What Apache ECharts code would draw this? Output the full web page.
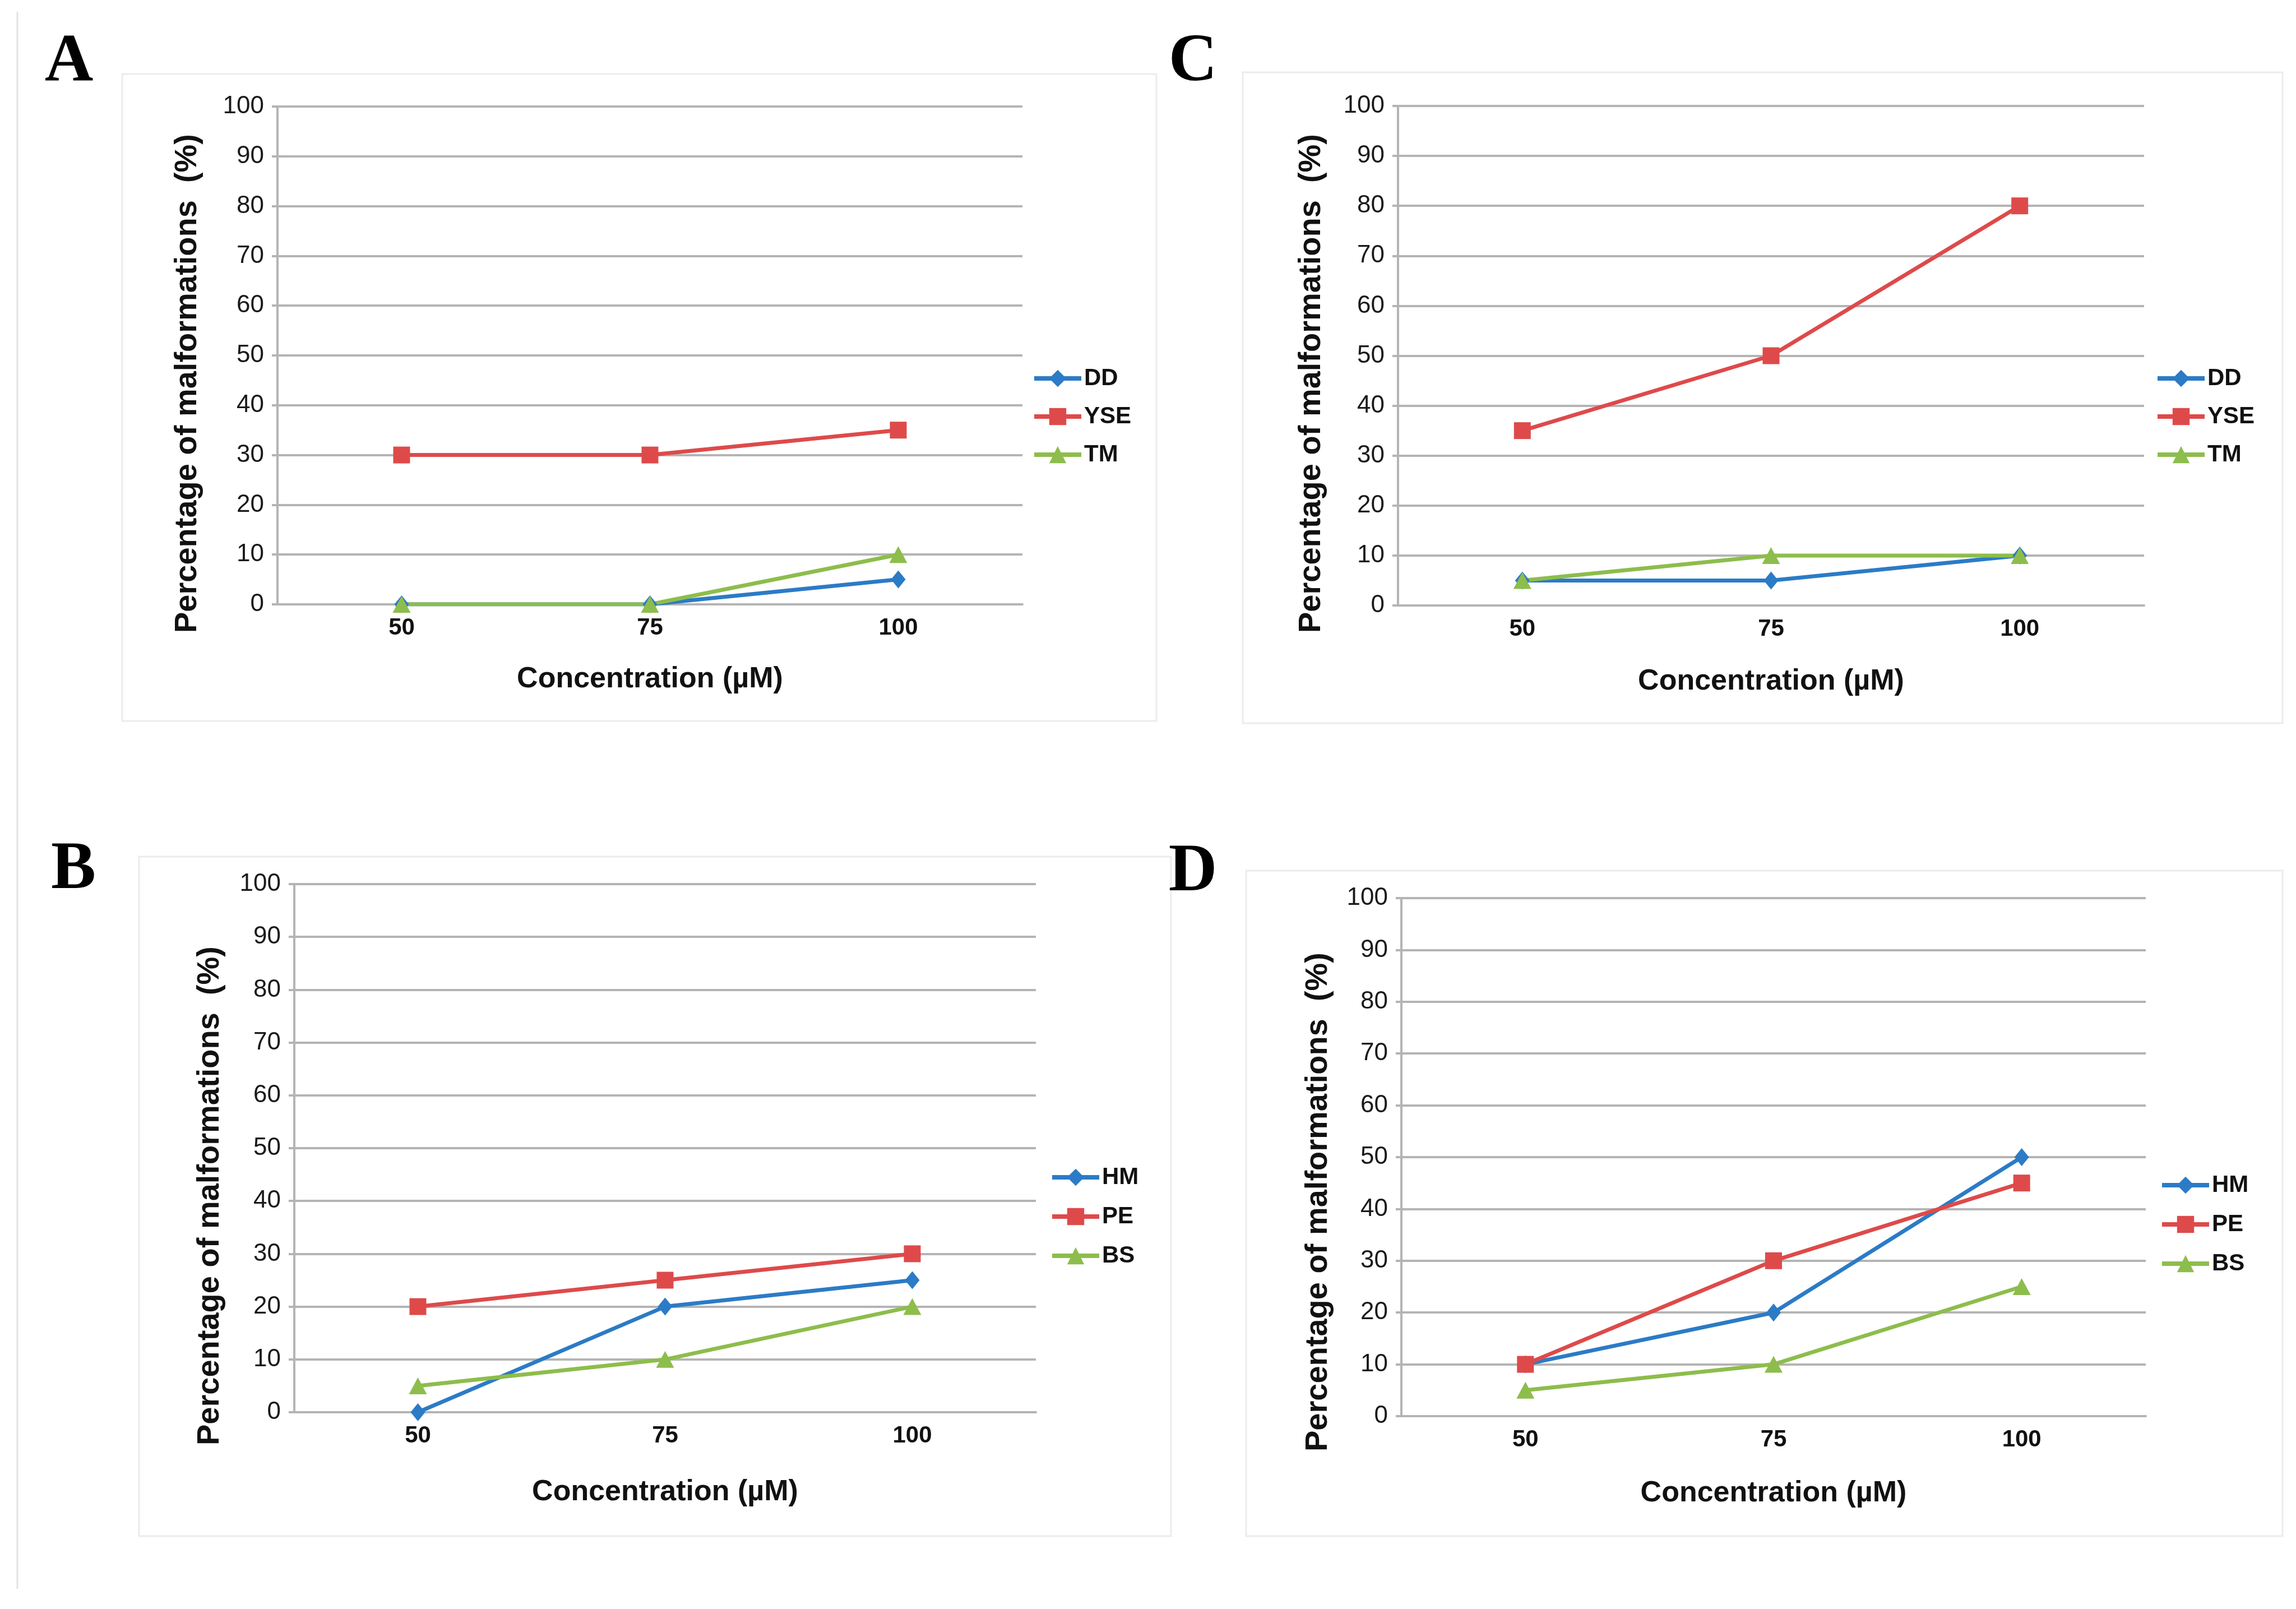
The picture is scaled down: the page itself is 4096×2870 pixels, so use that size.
<!DOCTYPE html>
<html>
<head>
<meta charset="utf-8">
<script src="https://cdn.jsdelivr.net/npm/echarts@6/dist/echarts.min.js"></script>
<style>
html,body{margin:0;padding:0;background:#fff;}
#main{width:4096px;height:2870px;}
</style>
</head>
<body>
<div id="main"></div>
<script>
// ---- data ----
const categories = ['50', '75', '100'];
const yMin = 0, yMax = 100, yStep = 10;

const A_DD = [0, 0, 5];
const A_YSE = [30, 30, 35];
const A_TM = [0, 0, 10];

const C_DD = [5, 5, 10];
const C_YSE = [35, 50, 80];
const C_TM = [5, 10, 10];

const B_HM = [0, 20, 25];
const B_PE = [20, 25, 30];
const B_BS = [5, 10, 20];

const D_HM = [10, 20, 50];
const D_PE = [10, 30, 45];
const D_BS = [5, 10, 25];

const xTitle = 'Concentration (\u00b5M)';
const yTitle = 'Percentage of malformations  (%)';

// ---- styles ----
const BLUE = '#2b7bc6', RED = '#de4a4a', GREEN = '#8dbd4c';
const GRID = '#b4b4b4';
const SANS = "'Liberation Sans', Arial, sans-serif";

const panels = [
  {grid: {left: 495, top: 190, width: 1329, height: 888}, nameGap: 108,
   legend: {left: 1836, top: 649, gap: 28},
   series: [['DD', A_DD, BLUE, 'diamond'], ['YSE', A_YSE, RED, 'rect'], ['TM', A_TM, GREEN, 'triangle']],
   yName: [335, 684], letter: ['A', 123, 112], box: [218, 132, 2063, 1286]},
  {grid: {left: 2494, top: 189, width: 1331, height: 891}, nameGap: 110,
   legend: {left: 3840, top: 649, gap: 28},
   series: [['DD', C_DD, BLUE, 'diamond'], ['YSE', C_YSE, RED, 'rect'], ['TM', C_TM, GREEN, 'triangle']],
   yName: [2340, 684], letter: ['C', 2128, 112], box: [2217, 129, 4072, 1290]},
  {grid: {left: 525, top: 1577, width: 1323, height: 942}, nameGap: 117,
   legend: {left: 1868, top: 2074, gap: 30},
   series: [['HM', B_HM, BLUE, 'diamond'], ['PE', B_PE, RED, 'rect'], ['BS', B_BS, GREEN, 'triangle']],
   yName: [375, 2133], letter: ['B', 131, 1553], box: [248, 1528, 2089, 2740]},
  {grid: {left: 2500, top: 1602, width: 1328, height: 924}, nameGap: 112,
   legend: {left: 3848, top: 2088, gap: 30},
   series: [['HM', D_HM, BLUE, 'diamond'], ['PE', D_PE, RED, 'rect'], ['BS', D_BS, GREEN, 'triangle']],
   yName: [2352, 2144], letter: ['D', 2128, 1557], box: [2223, 1553, 4072, 2740]}
];

const symbolSizes = {diamond: [26, 32], rect: [30, 30], triangle: [32, 30]};

const option = {
  backgroundColor: '#ffffff',
  animation: false,
  grid: [], xAxis: [], yAxis: [], legend: [], series: [], graphic: []
};

// outer left rule
option.graphic.push({type: 'line', shape: {x1: 31, y1: 21, x2: 31, y2: 2834},
  style: {stroke: '#e2e2e2', lineWidth: 3}, z: -1});

panels.forEach((p, i) => {
  option.grid.push(Object.assign({containLabel: false}, p.grid));
  option.xAxis.push({
    type: 'category', gridIndex: i, data: categories, boundaryGap: true,
    axisLine: {show: true, lineStyle: {color: GRID, width: 4}},
    axisTick: {show: false},
    axisLabel: {fontSize: 42, fontWeight: 'bold', color: '#111', margin: 21, fontFamily: SANS},
    name: xTitle, nameLocation: 'middle', nameGap: p.nameGap,
    nameTextStyle: {fontSize: 52, fontWeight: 'bold', color: '#111', fontFamily: SANS}
  });
  option.yAxis.push({
    type: 'value', gridIndex: i, min: yMin, max: yMax, interval: yStep,
    axisLine: {show: true, lineStyle: {color: GRID, width: 4}},
    axisTick: {show: true, length: 10, lineStyle: {color: GRID, width: 4}},
    axisLabel: {fontSize: 44, color: '#1a1a1a', margin: 24, fontFamily: SANS},
    splitLine: {show: true, lineStyle: {color: GRID, width: 4}}
  });
  option.legend.push({
    orient: 'vertical', left: p.legend.left, top: p.legend.top,
    itemWidth: 84, itemHeight: 38, itemGap: p.legend.gap - 2,
    lineStyle: {width: 8},
    data: p.series.map(s => s[0]),
    textStyle: {fontSize: 42, fontWeight: 'bold', color: '#111', fontFamily: SANS}
  });
  p.series.forEach(s => {
    option.series.push({
      type: 'line', name: s[0], data: s[1], xAxisIndex: i, yAxisIndex: i,
      symbol: s[3], symbolSize: symbolSizes[s[3]], showSymbol: true,
      lineStyle: {color: s[2], width: 7},
      itemStyle: {color: s[2]},
      emphasis: {disabled: true}
    });
  });
  // chart frame
  option.graphic.push({type: 'rect', shape: {x: p.box[0], y: p.box[1], width: p.box[2] - p.box[0], height: p.box[3] - p.box[1]},
    style: {fill: 'none', stroke: '#ececec', lineWidth: 3}, z: -1});
  // y axis title
  option.graphic.push({type: 'text', x: p.yName[0], y: p.yName[1], rotation: Math.PI / 2,
    style: {text: yTitle, fontSize: 56, fontWeight: 'bold', fill: '#111', fontFamily: SANS,
      textAlign: 'center', textVerticalAlign: 'middle'}});
  // panel letter
  option.graphic.push({type: 'text', x: p.letter[1], y: p.letter[2],
    style: {text: p.letter[0], fontSize: 120, fontWeight: 'bold', fill: '#000',
      fontFamily: "'Liberation Serif', 'Times New Roman', serif", textAlign: 'center', textVerticalAlign: 'middle'}});
});

const chart = echarts.init(document.getElementById('main'), null, {renderer: 'canvas', width: 4096, height: 2870});
chart.setOption(option);
</script>
</body>
</html>
